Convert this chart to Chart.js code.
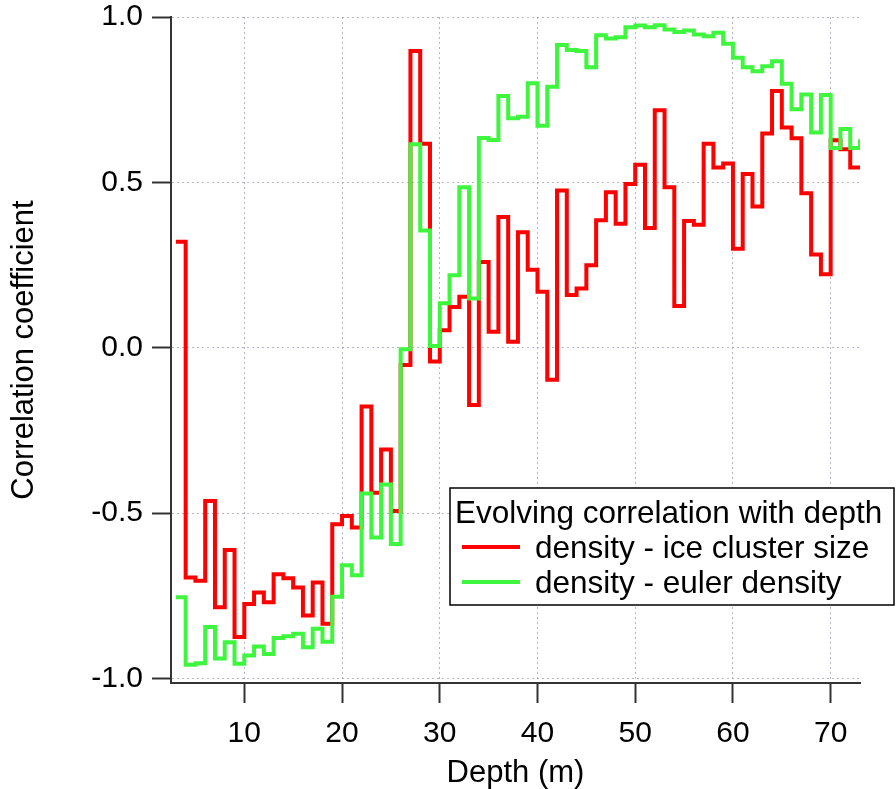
<!DOCTYPE html>
<html>
<head>
<meta charset="utf-8">
<script src="https://cdn.jsdelivr.net/npm/chart.js@4"></script>
<style>
  html, body { margin: 0; padding: 0; background: #fff; }
  #wrap { width: 896px; height: 789px; }
</style>
</head>
<body>
<div id="wrap"><canvas id="corrChart"></canvas></div>
<script>
// depth (m) at the start of each step
var depths = [3, 4, 5, 6, 7, 8, 9, 10, 11, 12, 13, 14, 15, 16, 17, 18, 19, 20, 21, 22,
    23, 24, 25, 26, 27, 28, 29, 30, 31, 32, 33, 34, 35, 36, 37, 38, 39, 40, 41, 42,
    43, 44, 45, 46, 47, 48, 49, 50, 51, 52, 53, 54, 55, 56, 57, 58, 59, 60, 61, 62,
    63, 64, 65, 66, 67, 68, 69, 70, 71, 72, 73];

var iceClusterSize = [0.32, -0.695, -0.705, -0.464, -0.785, -0.612, -0.875, -0.775, -0.74, -0.77,
    -0.685, -0.697, -0.725, -0.81, -0.71, -0.835, -0.534, -0.509, -0.544, -0.178,
    -0.439, -0.308, -0.494, -0.052, 0.897, 0.617, -0.042, 0.053, 0.123, 0.154,
    -0.173, 0.259, 0.048, 0.395, 0.018, 0.349, 0.236, 0.169, -0.097, 0.475,
    0.159, 0.179, 0.249, 0.385, 0.47, 0.375, 0.495, 0.553, 0.362, 0.718,
    0.485, 0.126, 0.383, 0.372, 0.617, 0.545, 0.557, 0.299, 0.525, 0.427,
    0.648, 0.776, 0.666, 0.633, 0.467, 0.282, 0.222, 0.627, 0.6, 0.545, 0.545];

var eulerDensity = [-0.755, -0.959, -0.954, -0.845, -0.94, -0.891, -0.956, -0.931, -0.904, -0.926,
    -0.878, -0.873, -0.865, -0.906, -0.85, -0.889, -0.753, -0.658, -0.688, -0.441,
    -0.574, -0.414, -0.594, -0.005, 0.615, 0.354, 0.005, 0.134, 0.219, 0.485,
    0.149, 0.634, 0.628, 0.761, 0.694, 0.698, 0.8, 0.671, 0.789, 0.915,
    0.9, 0.897, 0.848, 0.945, 0.935, 0.939, 0.969, 0.974, 0.969, 0.975,
    0.962, 0.955, 0.959, 0.947, 0.942, 0.952, 0.919, 0.877, 0.848, 0.836,
    0.851, 0.866, 0.798, 0.721, 0.766, 0.651, 0.764, 0.604, 0.661, 0.604, 0.63];

var xTicks = [10, 20, 30, 40, 50, 60, 70];
var yTicks = [-1.0, -0.5, 0.0, 0.5, 1.0];

var legendTitle = "Evolving correlation with depth";

Chart.defaults.font.family = "'Liberation Sans', Arial, sans-serif";
Chart.defaults.color = "#000";

var gridColor = "rgba(150,150,175,0.7)";
var axisColor = "#333";

function points(ys) {
    return depths.map(function (d, i) { return { x: d, y: ys[i] }; });
}

// boxed legend drawn inside the plot, like the original figure
var boxLegend = {
    id: "boxLegend",
    afterDraw: function (chart) {
        var ctx = chart.ctx;
        var left = 450, top = 488, right = 894, bottom = 605;
        ctx.save();
        ctx.fillStyle = "#fff";
        ctx.fillRect(left, top, right - left, bottom - top);
        ctx.strokeStyle = "#000";
        ctx.lineWidth = 1.5;
        ctx.strokeRect(left, top, right - left, bottom - top);

        ctx.fillStyle = "#000";
        ctx.font = "31.5px 'Liberation Sans', Arial, sans-serif";
        ctx.textBaseline = "alphabetic";
        ctx.fillText(legendTitle, left + 5, top + 35);

        chart.data.datasets.forEach(function (ds, i) {
            var y = top + 59 + i * 35;
            ctx.strokeStyle = ds.borderColor;
            ctx.lineWidth = 4;
            ctx.beginPath();
            ctx.moveTo(left + 12, y);
            ctx.lineTo(left + 70, y);
            ctx.stroke();
            ctx.fillText(ds.label, left + 85, y + 11);
        });
        ctx.restore();
    }
};

var canvasElement = document.getElementById("corrChart");
var config = {
    type: "line",
    data: {
        datasets: [{
            label: "density - ice cluster size",
            data: points(iceClusterSize),
            borderColor: "#ff0000",
            borderWidth: 4,
            stepped: true,
            pointRadius: 0,
            fill: false,
            borderJoinStyle: "miter",
            order: 2
        }, {
            label: "density - euler density",
            data: points(eulerDensity),
            borderColor: "#3ef63e",
            borderWidth: 4,
            stepped: true,
            pointRadius: 0,
            fill: false,
            borderJoinStyle: "miter",
            order: 1
        }]
    },
    options: {
        responsive: true,
        maintainAspectRatio: false,
        animation: false,
        devicePixelRatio: 1,
        layout: { padding: { top: 17, right: 36, left: 0, bottom: 0 } },
        plugins: {
            legend: { display: false },
            tooltip: { enabled: false }
        },
        scales: {
            x: {
                type: "linear",
                min: 2.5,
                max: 73,
                afterBuildTicks: function (scale) {
                    scale.ticks = xTicks.map(function (v) { return { value: v }; });
                },
                afterFit: function (scale) {
                    scale.height = 106;
                    scale.paddingLeft = 0;
                    scale.paddingRight = 0;
                },
                ticks: {
                    font: { size: 30 },
                    color: "#000",
                    padding: 13,
                    maxRotation: 0,
                    autoSkip: false,
                    includeBounds: false
                },
                grid: {
                    color: gridColor,
                    lineWidth: 1,
                    tickColor: axisColor,
                    tickWidth: 2,
                    tickLength: 20,
                    tickBorderDash: []
                },
                border: { display: true, color: axisColor, width: 2, dash: [2, 3] },
                title: {
                    display: true,
                    text: "Depth (m)",
                    font: { size: 31 },
                    color: "#000",
                    padding: { top: 0, bottom: -3 }
                }
            },
            y: {
                min: -1.014,
                max: 1,
                afterBuildTicks: function (scale) {
                    scale.ticks = yTicks.map(function (v) { return { value: v }; });
                },
                afterFit: function (scale) {
                    scale.width = 171;
                    scale.paddingTop = 0;
                    scale.paddingBottom = 0;
                },
                ticks: {
                    font: { size: 30 },
                    color: "#000",
                    padding: 9,
                    callback: function (v) { return Number(v).toFixed(1); }
                },
                grid: {
                    color: gridColor,
                    lineWidth: 1,
                    tickColor: axisColor,
                    tickWidth: 2,
                    tickLength: 19,
                    tickBorderDash: []
                },
                border: { display: true, color: axisColor, width: 2, dash: [2, 3] },
                title: {
                    display: true,
                    text: "Correlation coefficient",
                    font: { size: 31 },
                    color: "#000",
                    padding: { top: 6, bottom: 0 }
                }
            }
        }
    },
    plugins: [boxLegend]
};

var corrChart = new Chart(canvasElement, config);
</script>
</body>
</html>
